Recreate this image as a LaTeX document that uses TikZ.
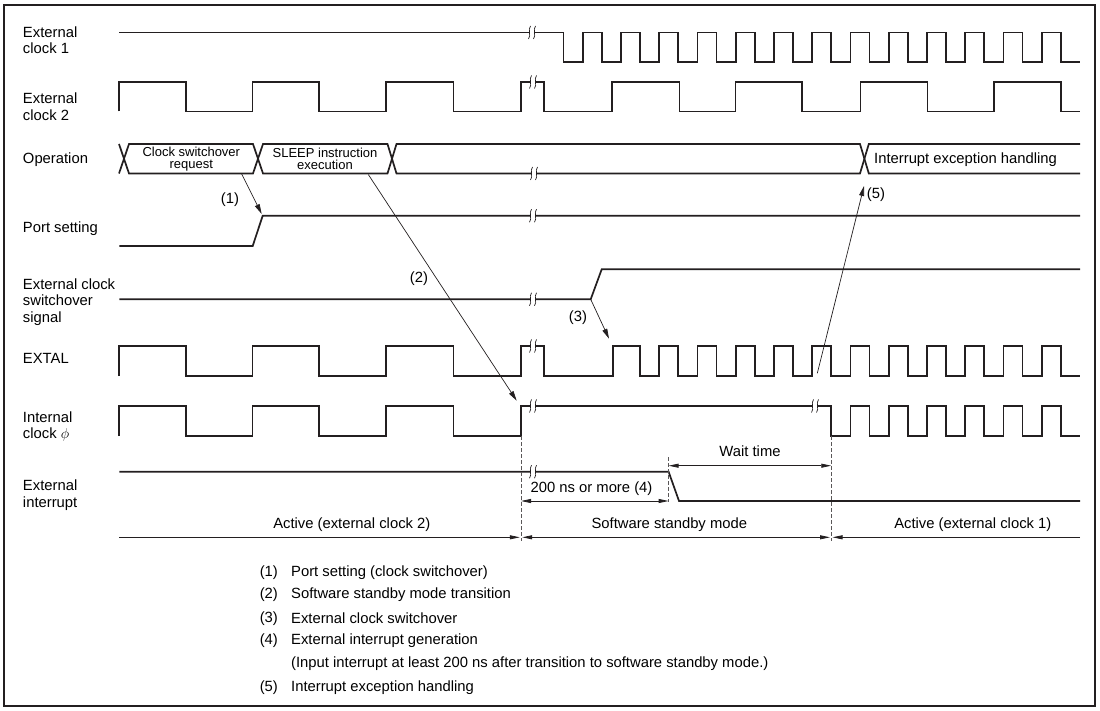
\documentclass[tikz,border=0pt]{standalone}
\usepackage{fontspec}
\setmainfont{Liberation Sans}
\usetikzlibrary{arrows.meta}
\definecolor{ink}{HTML}{231F20}
\newcommand\mainsz{\fontsize{14.8}{16.5}\selectfont}
\newcommand\boxsz{\fontsize{13}{11.7}\selectfont}
\newcommand\breakmark[2]{%
  \fill[white] ({#1-2.2},{#2-2.6}) rectangle ({#1+2.2},{#2+2.6});
  \draw[brk] ({#1-1.5},{#2-6.5}) .. controls ({#1-4.5},{#2-2.5}) and ({#1-0.5},{#2+2.5}) .. ({#1-3.5},{#2+6.5});
  \draw[brk] ({#1+3.5},{#2-6.5}) .. controls ({#1+0.5},{#2-2.5}) and ({#1+4.5},{#2+2.5}) .. ({#1+1.5},{#2+6.5});
}
\tikzset{
  wave/.style={line width=1.7pt, draw=ink, line join=miter},
  brk/.style={line width=0.7pt, draw=ink},
  conn/.style={line width=0.7pt, draw=ink, -{Triangle[length=10pt,width=5pt]}},
  dimr/.style={line width=0.8pt, draw=ink, -{Triangle[length=10pt,width=4pt]}},
  dimb/.style={line width=0.8pt, draw=ink, {Triangle[length=10pt,width=4pt]}-{Triangle[length=10pt,width=4pt]}},
  guide/.style={line width=0.8pt, draw=ink!75, dash pattern=on 3.5pt off 2.5pt},
  lbl/.style={anchor=west, align=left, inner sep=0pt, font=\mainsz},
  txt/.style={inner sep=0pt, font=\mainsz},
  boxtxt/.style={inner sep=0pt, align=center, font=\boxsz},
}
\begin{document}
\begin{tikzpicture}[x=1pt,y=-1pt]
\useasboundingbox (0,0) rectangle (1100,711);
\draw[line width=2pt, ink] (4,5) rectangle (1095,706);

% ---- row labels
\node[lbl] (l1) at (22.8,40) {External\\clock 1};
\node[lbl] (l2) at (22.8,106.5) {External\\clock 2};
\node[lbl] (l3) at (22.8,160) {Operation};
\node[lbl] (l4) at (22.8,228.3) {Port setting};
\node[lbl] (l5) at (22.8,301.7) {External clock\\switchover\\signal};
\node[lbl] (l6) at (22.8,358.3) {EXTAL};
\node[lbl] (l7) at (22.8,426.7) {Internal\\clock $\phi$};
\node[lbl] (l8) at (22.8,495) {External\\interrupt};

% ---- External clock 1
\draw[wave] (119.3,32.5) -- (563.5,32.5)
  \foreach \k in {1,...,13}{ -- ++(0,29.5) -- ++(19.2,0) -- ++(0,-29.5) -- ++(19.05,0) }
  -- ++(0,29.5) -- (1080,62);

% ---- External clock 2
\draw[wave] (119.3,111.5) -- (119.3,82) -- (186,82) -- (186,111.5) -- (252.6,111.5) -- (252.6,82)
  -- (319.3,82) -- (319.3,111.5) -- (386,111.5) -- (386,82) -- (453.5,82) -- (453.5,111.5)
  -- (521,111.5) -- (521,82) -- (544.3,82) -- (544.3,111.5) -- (612.3,111.5) -- (612.3,82)
  -- (679.5,82) -- (679.5,111.5) -- (735.5,111.5) -- (735.5,82) -- (802,82) -- (802,111.5)
  -- (860.5,111.5) -- (860.5,82) -- (927.5,82) -- (927.5,111.5) -- (994,111.5) -- (994,82)
  -- (1061,82) -- (1061,111.5) -- (1080,111.5);

% ---- Operation
\draw[wave] (119,144) -- (129,173.5) -- (253,173.5) -- (263,144) -- (387.5,144) -- (396.5,173.5)
  -- (860,173.5) -- (868.8,144) -- (1080,144);
\draw[wave] (119,173.5) -- (129,144) -- (253,144) -- (263,173.5) -- (387.5,173.5) -- (396.5,144)
  -- (860,144) -- (868.8,173.5) -- (1080,173.5);
\node[boxtxt] (op1) at (191.3,159.2) {Clock switchover\\request};
\node[boxtxt] (op2) at (325,159.2) {SLEEP instruction\\execution};
\node[txt, anchor=west] (op3) at (874,159.3) {Interrupt exception handling};

% ---- Port setting
\draw[wave] (119.3,246) -- (252.7,246) -- (262.7,215.7) -- (1080,215.7);

% ---- External clock switchover signal
\draw[wave] (119.3,299.3) -- (590.7,299.3) -- (601.7,269.3) -- (1080,269.3);

% ---- EXTAL
\draw[wave] (119.3,376) -- (119.3,346) -- (186,346) -- (186,376) -- (252.6,376) -- (252.6,346)
  -- (319.3,346) -- (319.3,376) -- (386,376) -- (386,346) -- (453.5,346) -- (453.5,376)
  -- (521,376) -- (521,346) -- (544.3,346) -- (544.3,376) -- (612.7,376) -- (612.7,346) -- (640,346)
  \foreach \k in {1,...,11}{ -- ++(0,30) -- ++(19.2,0) -- ++(0,-30) -- ++(19.05,0) }
  -- ++(0,30) -- (1080,376);

% ---- Internal clock
\draw[wave] (119.3,436) -- (119.3,406) -- (186,406) -- (186,436) -- (252.6,436) -- (252.6,406)
  -- (319.3,406) -- (319.3,436) -- (386,436) -- (386,406) -- (453.5,406) -- (453.5,436)
  -- (521,436) -- (521,406) -- (831.25,406)
  \foreach \k in {1,...,6}{ -- ++(0,30) -- ++(19.2,0) -- ++(0,-30) -- ++(19.05,0) }
  -- ++(0,30) -- (1080,436);

% ---- External interrupt
\draw[wave] (119.3,471.7) -- (668.6,471.7) -- (679,501) -- (1080,501);

% ---- break marks
\breakmark{532}{32.5}
\breakmark{533}{82}
\breakmark{534}{173.5}
\breakmark{533}{215.7}
\breakmark{533}{299.3}
\breakmark{533}{346}
\breakmark{533}{406}
\breakmark{815}{406}
\breakmark{533}{471.7}

% ---- guides
\coordinate (g1a) at (521,436);   \coordinate (g1b) at (521,541);
\coordinate (g2a) at (831.25,436); \coordinate (g2b) at (831.25,541);
\coordinate (g3a) at (668.6,457); \coordinate (g3b) at (668.6,502);
\draw[guide] (g1a) -- (g1b);
\draw[guide] (g2a) -- (g2b);
\draw[guide] (g3a) -- (g3b);

% ---- connectors
\coordinate (c1s) at (241.7,174);  \coordinate (c1e) at (261.7,214);
\coordinate (c2s) at (368.3,174.5); \coordinate (c2e) at (516.7,400.7);
\coordinate (c3s) at (590.7,299.3); \coordinate (c3e) at (609,338.7);
\coordinate (c5s) at (817.3,373.3); \coordinate (c5e) at (864,186);
\draw[conn] (c1s) -- (c1e);
\draw[conn] (c2s) -- (c2e);
\draw[conn] (c3s) -- (c3e);
\draw[conn] (c5s) -- (c5e);
\node[txt] (n1) at (230,200) {(1)};
\node[txt] (n2) at (419,278.3) {(2)};
\node[txt] (n3) at (578,318) {(3)};
\node[txt] (n5) at (876,195) {(5)};

% ---- dimension arrows
\coordinate (w1) at (668.6,465.7); \coordinate (w2) at (831.25,465.7);
\draw[dimb] (w1) -- (w2);
\node[txt] (wt) at (750,451.7) {Wait time};
\coordinate (d1) at (521,501); \coordinate (d2) at (668.6,501);
\draw[dimb] (d1) -- (d2);
\node[txt] (dt) at (591.5,488.3) {200 ns or more (4)};
\coordinate (a0) at (119.3,537.3); \coordinate (a1) at (519.8,537.3);
\coordinate (a2) at (522.2,537.3); \coordinate (a3) at (830,537.3);
\coordinate (a4) at (832.5,537.3); \coordinate (a5) at (1080,537.3);
\draw[dimr] (a0) -- (a1);
\draw[dimb] (a2) -- (a3);
\draw[dimr] (a5) -- (a4);
\node[txt] (m1) at (351.8,525) {Active (external clock 2)};
\node[txt] (m2) at (669.3,525) {Software standby mode};
\node[txt] (m3) at (972.8,525) {Active (external clock 1)};

% ---- legend
\node[txt, anchor=west] (k1) at (259.6,572.7) {(1)};
\node[txt, anchor=west] (k2) at (259.6,595) {(2)};
\node[txt, anchor=west] (k3) at (259.6,618.3) {(3)};
\node[txt, anchor=west] (k4) at (259.6,641) {(4)};
\node[txt, anchor=west] (k5) at (259.6,687.3) {(5)};
\node[txt, anchor=west] (t1) at (291,572.7) {Port setting (clock switchover)};
\node[txt, anchor=west] (t2) at (291,595) {Software standby mode transition};
\node[txt, anchor=west] (t3) at (291,618.3) {External clock switchover};
\node[txt, anchor=west] (t4) at (291,641) {External interrupt generation};
\node[txt, anchor=west] (t4b) at (291,664) {(Input interrupt at least 200 ns after transition to software standby mode.)};
\node[txt, anchor=west] (t5) at (291,687.3) {Interrupt exception handling};
\end{tikzpicture}
\end{document}
